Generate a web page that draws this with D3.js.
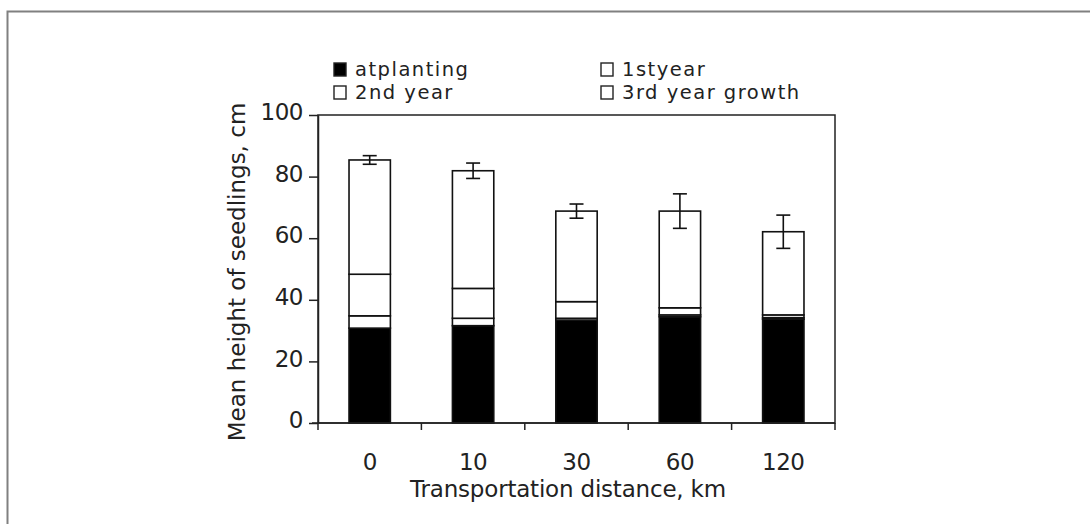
<!DOCTYPE html>
<html>
<head>
<meta charset="utf-8">
<script src="https://cdn.jsdelivr.net/npm/d3@7"></script>
<style>
  body { margin: 0; background: #fff; }
  text { font-family: "DejaVu Sans", sans-serif; fill: #222; }
</style>
</head>
<body>
<div id="chart"></div>
<script>
// distances and stacked growth components (cm)
const distances = ["0", "10", "30", "60", "120"];
const seriesNames = ["atplanting", "1styear", "2nd year", "3rd year growth"];
const atPlanting = [30.8, 31.6, 33.4, 34.5, 33.7];
const firstYear  = [4.0, 2.4, 0.6, 0.6, 0.5];
const secondYear = [13.5, 9.7, 5.4, 2.3, 0.9];
const thirdYear  = [37.1, 38.2, 29.4, 31.4, 27.0];
const errors     = [1.4, 2.5, 2.3, 5.6, 5.4];
const yTicks = [0, 20, 40, 60, 80, 100];

(function() {
  const W = 1090, H = 524;
  const margin = {top: 115, left: 318, right: 255, bottom: 101};
  const width = W - margin.left - margin.right,
        height = H - margin.top - margin.bottom;
  const fontSize = "23px";

  const svg = d3.select("#chart").append("svg")
      .attr("width", W)
      .attr("height", H);

  // outer frame (only top and left visible)
  svg.append("path")
    .attr("d", "M7.5," + H + "V11.5H" + W)
    .attr("fill", "none")
    .attr("stroke", "#808080")
    .attr("stroke-width", 2);

  const g = svg.append("g")
    .attr("transform", "translate(" + margin.left + "," + margin.top + ")");

  const x = d3.scaleBand().domain(distances).range([0, width]).paddingInner(0.6).paddingOuter(0.3);
  const y = d3.scaleLinear().domain([0, 100]).range([height, 0]);

  const rows = distances.map((d, i) => ({
    dist: d, "atplanting": atPlanting[i], "1styear": firstYear[i],
    "2nd year": secondYear[i], "3rd year growth": thirdYear[i], err: errors[i]
  }));
  const stacked = d3.stack().keys(seriesNames)(rows);
  const fills = {"atplanting": "#000", "1styear": "#fff", "2nd year": "#fff", "3rd year growth": "#fff"};

  // plot box
  g.append("rect")
    .attr("width", width).attr("height", height)
    .attr("fill", "none").attr("stroke", "#222").attr("stroke-width", 1.5);

  stacked.forEach(s => {
    g.append("g").selectAll("rect")
      .data(s)
      .join("rect")
        .attr("x", d => x(d.data.dist))
        .attr("y", d => y(d[1]))
        .attr("width", x.bandwidth())
        .attr("height", d => y(d[0]) - y(d[1]))
        .attr("fill", fills[s.key])
        .attr("stroke", "#111")
        .attr("stroke-width", 1.6);
  });

  // error bars on totals
  const top = stacked[stacked.length - 1];
  const eb = g.append("g").attr("stroke", "#111").attr("stroke-width", 1.6);
  top.forEach(d => {
    const cx = x(d.data.dist) + x.bandwidth() / 2;
    const hi = y(d[1] + d.data.err), lo = y(d[1] - d.data.err);
    eb.append("line").attr("x1", cx).attr("x2", cx).attr("y1", hi).attr("y2", lo);
    eb.append("line").attr("x1", cx - 7).attr("x2", cx + 7).attr("y1", hi).attr("y2", hi);
    eb.append("line").attr("x1", cx - 7).attr("x2", cx + 7).attr("y1", lo).attr("y2", lo);
  });

  // y axis
  const yAxis = g.append("g")
    .call(d3.axisLeft(y).tickValues(yTicks).tickSize(9).tickSizeOuter(0));
  yAxis.select(".domain").attr("stroke", "#222").attr("stroke-width", 1.5);
  yAxis.selectAll(".tick line").attr("stroke", "#222").attr("stroke-width", 1.5);
  yAxis.selectAll(".tick text")
    .attr("x", -15)
    .attr("dy", "0.2em")
    .style("font-family", "DejaVu Sans")
    .style("font-size", fontSize)
    .attr("fill", "#222")
    .attr("letter-spacing", "-0.5");

  // x axis: ticks between categories
  const xAxis = g.append("g").attr("transform", "translate(0," + height + ")");
  xAxis.append("line").attr("x1", -6).attr("x2", width)
    .attr("stroke", "#222").attr("stroke-width", 1.5);
  const seps = d3.range(0, distances.length + 1).map(i => i * width / distances.length);
  xAxis.selectAll(".sep").data(seps).join("line")
    .attr("x1", d => d).attr("x2", d => d)
    .attr("y1", 0).attr("y2", 7)
    .attr("stroke", "#222").attr("stroke-width", 1.5);
  xAxis.selectAll(".lbl").data(distances).join("text")
    .attr("x", d => x(d) + x.bandwidth() / 2)
    .attr("y", 47)
    .attr("text-anchor", "middle")
    .style("font-size", fontSize)
    .attr("letter-spacing", "-0.5")
    .text(d => d);

  svg.append("text")
    .attr("x", 568).attr("y", 497)
    .attr("text-anchor", "middle")
    .style("font-size", fontSize)
    .attr("letter-spacing", "-0.2")
    .text("Transportation distance, km");

  svg.append("text")
    .attr("transform", "translate(245,272) rotate(-90)")
    .attr("text-anchor", "middle")
    .style("font-size", fontSize)
    .attr("letter-spacing", "0")
    .text("Mean height of seedlings, cm");

  // legend
  const legendPos = [[334, 63], [601, 63], [334, 86], [601, 86]];
  seriesNames.forEach((name, i) => {
    const [lx, ly] = legendPos[i];
    svg.append("rect")
      .attr("x", lx).attr("y", ly)
      .attr("width", 12).attr("height", 13)
      .attr("fill", fills[name]).attr("stroke", "#222").attr("stroke-width", 1.4);
    svg.append("text")
      .attr("x", lx + 21).attr("y", ly + 13)
      .style("font-size", "19.5px")
      .attr("letter-spacing", "1.5")
      .text(name);
  });
})();
</script>
</body>
</html>
